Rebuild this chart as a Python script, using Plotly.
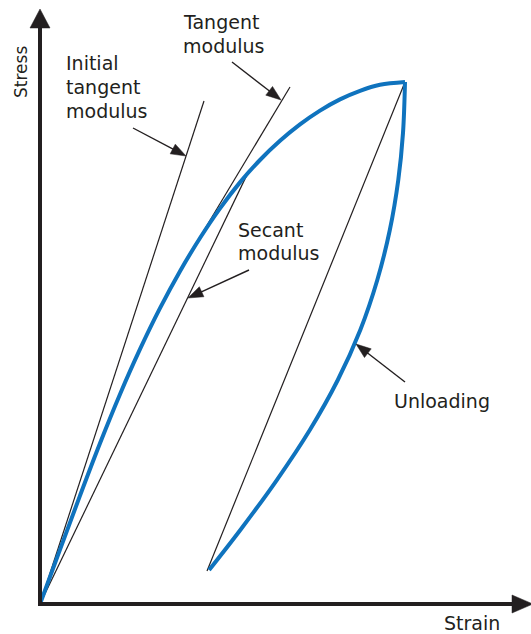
import plotly.graph_objects as go
import math

# ---------------- data (strain, stress in relative units; peak = 1) ----------------
loading_strain = [0.0, 0.0548, 0.1096, 0.1644, 0.2192, 0.2740, 0.3288, 0.3836, 0.4384, 0.4932,
                  0.5479, 0.6027, 0.6575, 0.7123, 0.7671, 0.8219, 0.8767, 0.9315, 1.0]
loading_stress = [0.0, 0.1042, 0.2077, 0.3080, 0.4019, 0.4881, 0.5667, 0.6376, 0.7011, 0.7579,
                  0.8077, 0.8506, 0.8874, 0.9188, 0.9452, 0.9667, 0.9831, 0.9946, 1.0]

unloading_strain = [1.0, 0.9945, 0.9816, 0.9584, 0.9241, 0.8775, 0.8159, 0.7392, 0.6488, 0.5488,
                    0.4633]
unloading_stress = [1.0, 0.9023, 0.8123, 0.7165, 0.6207, 0.5249, 0.4291, 0.3333, 0.2375, 0.1418,
                    0.0651]

initial_tangent_strain = [0.0, 0.4493]
initial_tangent_stress = [0.0, 0.9636]
tangent_strain = [0.4466, 0.6849]
tangent_stress = [0.7126, 0.9904]
secant_strain = [0.0, 0.5699]
secant_stress = [0.0, 0.8264]
unload_line_strain = [0.4575, 1.0]
unload_line_stress = [0.0632, 1.0]

# ---------------- figure geometry ----------------
W, H = 531, 634
X0PX, Y0PX = 40, 604      # origin pixel
SX, SY = 365.0, 522.0     # pixels per unit
XR = [-X0PX / SX, (W - X0PX) / SX]
YR = [-(H - Y0PX) / SY, Y0PX / SY]

def px(xp, yp):
    return ((xp - X0PX) / SX, (Y0PX - yp) / SY)

BLUE = "#0f73be"
INK = "#231f20"
FONT = "DejaVu Sans"

fig = go.Figure()

def thin(xs, ys, w=1.2):
    fig.add_trace(go.Scatter(x=xs, y=ys, mode="lines", line=dict(color=INK, width=w),
                             hoverinfo="skip", showlegend=False))

thin(initial_tangent_strain, initial_tangent_stress)
thin(tangent_strain, tangent_stress)
thin(secant_strain, secant_stress)
thin(unload_line_strain, unload_line_stress)

fig.add_trace(go.Scatter(x=loading_strain, y=loading_stress, mode="lines",
                         line=dict(color=BLUE, width=4, shape="spline", smoothing=1.0),
                         hoverinfo="skip", showlegend=False))
fig.add_trace(go.Scatter(x=unloading_strain, y=unloading_stress, mode="lines",
                         line=dict(color=BLUE, width=4, shape="spline", smoothing=1.0),
                         hoverinfo="skip", showlegend=False))

shapes = []

def arrow(tail, tip, L=15, hw=5.5, lw=1.4):
    tx, ty = tail
    hx, hy = tip
    dx, dy = hx - tx, hy - ty
    n = math.hypot(dx, dy)
    ux, uy = dx / n, dy / n
    bx, by = hx - L * ux, hy - L * uy
    p1 = (bx - hw * uy, by + hw * ux)
    p2 = (bx + hw * uy, by - hw * ux)
    s = px(tx, ty)
    e = px(bx + 2 * ux, by + 2 * uy)
    shapes.append(dict(type="line", xref="x", yref="y", x0=s[0], y0=s[1], x1=e[0], y1=e[1],
                       line=dict(color=INK, width=lw)))
    a = px(hx, hy); b = px(*p1); c = px(*p2)
    shapes.append(dict(type="path", xref="x", yref="y",
                       path=f"M{a[0]},{a[1]} L{b[0]},{b[1]} L{c[0]},{c[1]} Z",
                       fillcolor=INK, line=dict(color=INK, width=0.5)))

# axes arrows
o = px(X0PX, Y0PX)
ytop = px(X0PX, 26)
shapes.append(dict(type="line", xref="x", yref="y", x0=o[0], y0=o[1] - 2 / SY, x1=ytop[0], y1=ytop[1],
                   line=dict(color=INK, width=4)))
t1 = px(X0PX, 9); b1 = px(X0PX - 10, 28); b2 = px(X0PX + 10, 28)
shapes.append(dict(type="path", xref="x", yref="y",
                   path=f"M{t1[0]},{t1[1]} L{b1[0]},{b1[1]} L{b2[0]},{b2[1]} Z",
                   fillcolor=INK, line=dict(color=INK, width=0.5)))
xend = px(514, Y0PX)
shapes.append(dict(type="line", xref="x", yref="y", x0=o[0] - 2 / SX, y0=o[1], x1=xend[0], y1=xend[1],
                   line=dict(color=INK, width=4)))
t2 = px(533, Y0PX); c1 = px(512, Y0PX - 9); c2 = px(512, Y0PX + 9)
shapes.append(dict(type="path", xref="x", yref="y",
                   path=f"M{t2[0]},{t2[1]} L{c1[0]},{c1[1]} L{c2[0]},{c2[1]} Z",
                   fillcolor=INK, line=dict(color=INK, width=0.5)))

# annotation arrows
arrow((133, 128), (186, 156))
arrow((232, 62), (281, 100))
arrow((249, 270), (188, 298))
arrow((405, 382), (356, 344))

annotations = []

def label(text, xl, baseline, fs=19, anchor="left"):
    x, y = px(xl, baseline - 0.36 * fs)
    annotations.append(dict(x=x, y=y, xref="x", yref="y", text=text, showarrow=False,
                            xanchor=anchor, yanchor="middle",
                            font=dict(family=FONT, size=fs, color=INK)))

label("Initial", 64, 70)
label("tangent", 64, 94)
label("modulus", 64, 118)
label("Tangent", 181, 29)
label("modulus", 181, 53)
label("Secant", 236, 237)
label("modulus", 236, 260)
label("Unloading", 392, 408)
label("Strain", 442, 630)

sx, sy = px(21, 72)
annotations.append(dict(x=sx, y=sy, xref="x", yref="y", text="Stress", showarrow=False,
                        textangle=-90, xanchor="center", yanchor="middle",
                        font=dict(family=FONT, size=17, color=INK)))

fig.update_layout(
    width=W, height=H, margin=dict(l=0, r=0, t=0, b=0),
    paper_bgcolor="white", plot_bgcolor="white",
    xaxis=dict(range=XR, visible=False, fixedrange=True),
    yaxis=dict(range=YR, visible=False, fixedrange=True),
    shapes=shapes, annotations=annotations, showlegend=False,
)

fig.write_html("out.html", config={"displayModeBar": False},
               post_script="document.body.style.margin='0';")
